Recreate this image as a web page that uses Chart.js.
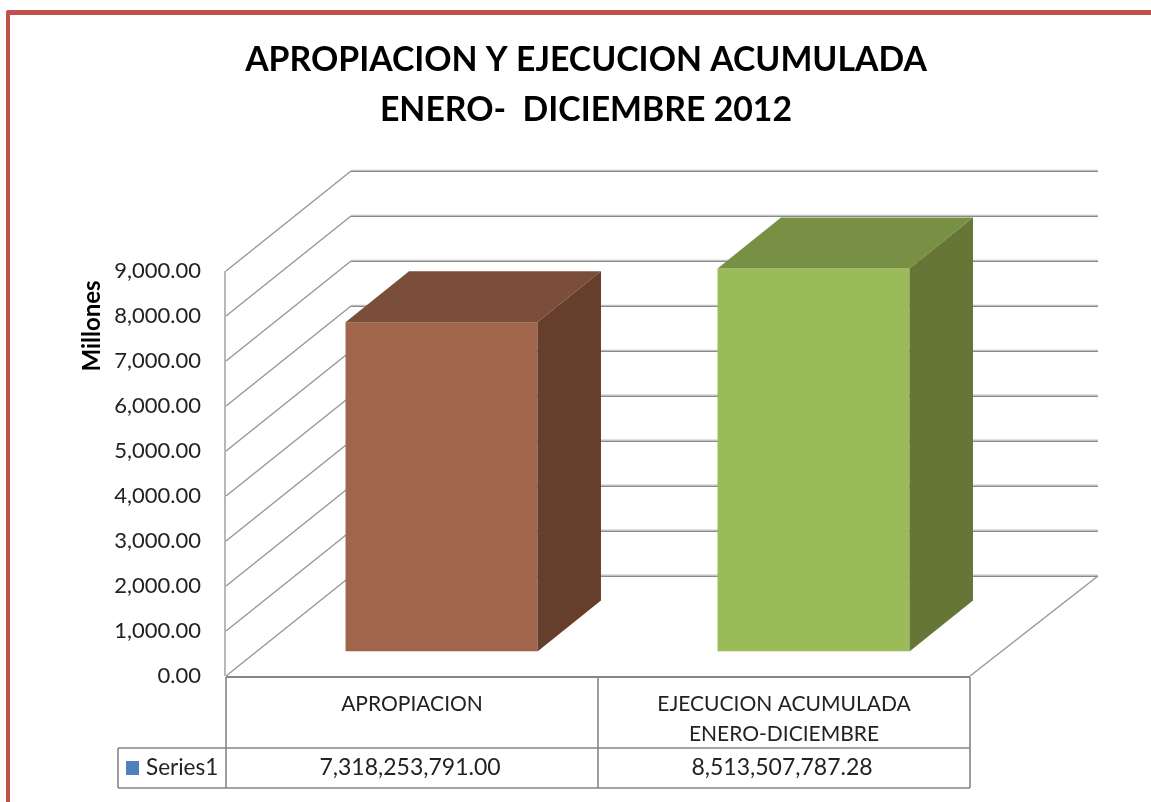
<!DOCTYPE html>
<html><head><meta charset="utf-8">
<style>html,body{margin:0;padding:0;background:#fff;overflow:hidden}
#frame{position:absolute;left:6px;top:10px;width:1145px;height:792px;border-left:4.5px solid #C0504D;border-top:5px solid #C0504D;box-sizing:border-box;border-top-left-radius:3px}
canvas{position:absolute;left:0;top:0}</style>
<script src="https://cdn.jsdelivr.net/npm/chart.js@4"></script></head>
<body><div id="frame"></div><canvas id="c" width="1151" height="802"></canvas>
<script>
const titleLines = ['APROPIACION Y EJECUCION ACUMULADA', 'ENERO-  DICIEMBRE 2012'];
const categories = [['APROPIACION'], ['EJECUCION ACUMULADA', 'ENERO-DICIEMBRE']];
const seriesName = 'Series1';
const rawValues = [7318253791.00, 8513507787.28];
const tableValues = ['7,318,253,791.00', '8,513,507,787.28'];
const axisTitle = 'Millones';
const frontColors = ['#A0654A', '#9BBB59'];
const topColors = ['#7A4E39', '#779043'];
const sideColors = ['#663F2C', '#657636'];
const swatchColor = '#4F81BD';
const yMax = 9000, yStep = 1000;
const FONT = 'Lato';
const wallDepth = {x: 125, y: -100};
const barShift = {x: 29.5, y: -24.5};
const barDepth = {x: 63.5, y: -51};

function line(ctx, x1, y1, x2, y2, color, w) {
  ctx.beginPath(); ctx.moveTo(x1, y1); ctx.lineTo(x2, y2);
  ctx.strokeStyle = color; ctx.lineWidth = w; ctx.stroke();
}
function poly(ctx, pts, color) {
  ctx.beginPath(); pts.forEach((p, i) => i ? ctx.lineTo(p[0], p[1]) : ctx.moveTo(p[0], p[1]));
  ctx.closePath(); ctx.fillStyle = color; ctx.fill();
}
const walls3d = {
  id: 'walls3d',
  beforeDatasetsDraw(chart) {
    const {ctx, chartArea: a, scales: {y}} = chart;
    const d = wallDepth;
    ctx.save();
    for (let v = 0; v <= yMax; v += yStep) {
      const py = y.getPixelForValue(v);
      line(ctx, a.left, py, a.left + d.x, py + d.y, '#969696', 1.4);
      line(ctx, a.left + d.x, py + d.y - 0.8, a.right + d.x + 3, py + d.y - 0.8, '#c4c4c4', 1.2);
      line(ctx, a.left + d.x, py + d.y + 0.4, a.right + d.x + 3, py + d.y + 0.4, '#8a8a8a', 1.2);
    }
    line(ctx, a.right, a.bottom, a.right + d.x + 3, a.bottom + d.y, '#969696', 1.4);
    line(ctx, a.left - 1, a.top, a.left - 1, a.bottom, '#b8b8b8', 2);
    ctx.restore();
    ctx.save();
    ctx.translate(barShift.x, barShift.y);
  },
  afterDatasetsDraw(chart) {
    const {ctx} = chart;
    const b = barDepth;
    chart.getDatasetMeta(0).data.forEach((bar, i) => {
      const l = bar.x - bar.width / 2, r = bar.x + bar.width / 2, t = bar.y, base = bar.base;
      poly(ctx, [[l, t], [l + b.x, t + b.y], [r + b.x, t + b.y], [r, t]], topColors[i]);
      poly(ctx, [[r, t], [r + b.x, t + b.y], [r + b.x, base + b.y], [r, base]], sideColors[i]);
    });
    ctx.restore();
  },
  afterDraw(chart) {
    const {ctx, chartArea: a, scales: {x}} = chart;
    const c = '#858585';
    const mid = (x.getPixelForValue(0) + x.getPixelForValue(1)) / 2;
    ctx.save();
    line(ctx, a.left, a.bottom + 1, a.right, a.bottom + 1, c, 2);
    line(ctx, a.left, a.bottom + 1, a.left, 788, c, 1.6);
    line(ctx, mid, a.bottom + 1, mid, 788, c, 1.6);
    line(ctx, a.right, a.bottom + 1, a.right, 788, c, 1.6);
    line(ctx, 118, 748, a.right, 748, c, 1.6);
    line(ctx, 118, 788, a.right, 788, c, 1.6);
    line(ctx, 118, 748, 118, 788, c, 1.6);
    ctx.fillStyle = swatchColor; ctx.fillRect(126, 761, 13, 14);
    ctx.fillStyle = '#222'; ctx.font = '22.5px ' + FONT;
    ctx.textBaseline = 'middle'; ctx.textAlign = 'left';
    ctx.fillText(seriesName, 146, 768);
    ctx.textAlign = 'center'; ctx.font = '23px ' + FONT;
    tableValues.forEach((t, i) => ctx.fillText(t, x.getPixelForValue(i) - 2, 768));
    ctx.translate(92, 326); ctx.rotate(-Math.PI / 2);
    ctx.font = 'bold 24px ' + FONT; ctx.fillStyle = '#000';
    ctx.fillText(axisTitle, 0, 0);
    ctx.restore();
  }
};
new Chart(document.getElementById('c'), {
  type: 'bar',
  data: {labels: categories, datasets: [{label: seriesName, data: rawValues.map(v => v / 1e6),
    backgroundColor: frontColors, categoryPercentage: 0.516, barPercentage: 1, borderWidth: 0}]},
  options: {
    responsive: false, animation: false, devicePixelRatio: 1,
    layout: {padding: {left: 21, right: 0, top: 0, bottom: 0}},
    plugins: {
      legend: {display: false}, tooltip: {enabled: false},
      title: {display: true, text: titleLines, color: '#000', align: 'center', fullSize: true,
        font: {family: FONT, size: 33.8, weight: 'bold', lineHeight: 1.48},
        padding: {top: 35, bottom: 136}}
    },
    scales: {
      x: {grid: {display: false}, border: {display: false},
        afterFit(s) { s.height = 126; },
        ticks: {color: '#222', padding: 5, maxRotation: 0, minRotation: 0, autoSkip: false,
          font: {family: FONT, size: 21, lineHeight: 1.43}}},
      y: {min: 0, max: yMax, grid: {display: false}, border: {display: false},
        afterFit(s) { s.width = 205; },
        afterBuildTicks(s) { s.ticks = []; for (let v = 0; v <= yMax; v += yStep) s.ticks.push({value: v}); },
        ticks: {color: '#222', padding: 17, font: {family: FONT, size: 22},
          callback: v => v.toLocaleString('en-US', {minimumFractionDigits: 2, maximumFractionDigits: 2})}},
      yRightGap: {position: 'right', min: 0, max: 1, grid: {display: false}, border: {display: false},
        ticks: {display: false}, afterFit(s) { s.width = 181; }}
    }
  },
  plugins: [walls3d]
});
</script></body></html>
